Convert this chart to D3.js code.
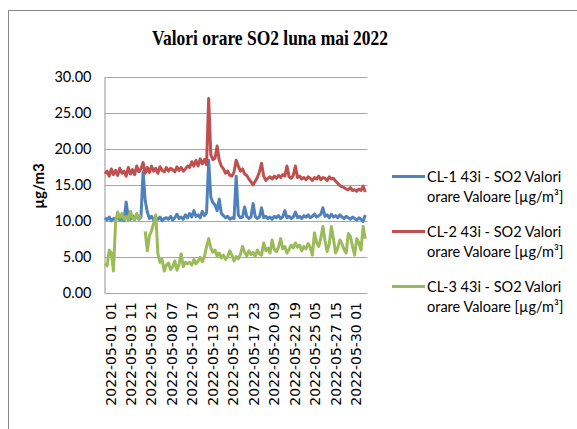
<!DOCTYPE html>
<html>
<head>
<meta charset="utf-8">
<script src="https://cdn.jsdelivr.net/npm/d3@7"></script>
<style>
  body { margin: 0; background: #fff; }
  svg { display: block; }
</style>
</head>
<body>
<svg id="chart" width="577" height="429"></svg>
<script>
// hourly values, one sample every 6 hours (index * 6 = hour of month)
const stepHours = 6
const cl1 = [
  10.4,10.1,10.5,10.0,10.3,10.2,10.6,10.1,10.3,10.0,
  12.6,10.4,10.2,10.7,10.3,10.6,10.2,10.5,16.8,12.8,
  11.2,10.3,10.6,10.1,10.4,10.2,10.5,10.0,10.3,10.4,
  10.2,10.6,10.1,10.4,10.9,10.3,10.5,10.2,10.8,10.4,
  11.0,10.5,11.4,10.6,10.8,10.4,11.3,10.7,11.1,18.4,
  13.3,12.5,12.2,11.4,13.0,11.0,10.7,10.4,10.6,10.2,
  10.4,10.3,16.2,10.8,10.4,10.5,11.9,10.6,10.3,10.5,
  12.4,10.6,10.3,10.5,11.8,10.4,10.6,10.3,10.5,10.2,
  10.6,10.4,10.7,10.3,10.5,11.4,10.4,10.6,10.3,10.5,
  11.2,10.4,10.6,10.3,10.7,10.5,10.8,10.4,10.6,10.9,
  10.5,10.7,10.9,11.8,10.6,10.8,10.4,10.9,10.5,10.7,
  10.4,10.8,10.5,10.3,10.6,10.4,10.2,10.5,10.3,10.1,
  10.4,10.2,9.9,10.8
]
const cl2 = [
  16.5,16.9,16.2,17.2,16.4,17.0,16.3,17.3,16.6,16.9,
  16.2,17.4,16.5,17.1,16.4,17.6,16.8,17.2,18.1,16.6,
  17.4,16.7,17.6,16.9,17.3,16.6,17.5,17.0,16.8,17.4,
  16.9,17.3,17.1,16.8,17.5,17.0,17.4,16.9,17.2,17.6,
  17.4,18.2,17.6,18.4,17.6,18.6,17.9,18.5,17.8,27.0,
  19.2,18.5,18.7,20.4,18.4,17.6,17.2,16.6,16.9,16.3,
  16.2,16.8,18.4,17.6,16.9,17.2,16.5,16.3,15.8,15.4,
  15.0,15.5,16.0,16.8,18.0,16.2,15.6,15.9,16.1,15.8,
  16.2,15.9,16.3,16.0,16.4,16.2,17.6,16.1,15.9,16.3,
  17.6,16.0,16.2,15.8,16.0,15.7,16.1,15.9,15.6,16.0,
  15.8,16.2,15.7,16.0,15.9,15.6,16.1,15.8,15.9,15.5,
  15.2,14.9,14.7,14.6,14.4,14.3,14.6,14.2,14.3,14.1,
  14.4,14.2,14.8,14.0
]
const cl3 = [
  4.0,3.7,5.9,5.5,3.0,9.8,11.2,10.4,11.0,10.2,
  10.6,10.0,11.3,10.4,10.1,11.0,10.3,10.8,null,8.5,
  5.8,7.9,8.6,9.6,10.8,5.4,4.2,4.6,3.0,3.8,
  4.1,3.2,3.6,4.4,3.1,3.9,5.4,3.6,4.2,4.0,
  4.2,3.8,4.6,4.0,4.4,4.9,4.3,5.0,6.4,7.5,
  6.2,5.6,5.9,5.1,5.5,4.8,5.2,4.6,5.0,5.8,
  5.2,4.4,5.0,4.7,5.3,6.4,5.6,5.1,5.8,5.3,
  5.6,5.0,5.9,5.4,5.2,6.9,5.8,6.2,5.5,7.3,
  6.0,5.7,6.3,7.5,6.1,6.4,5.5,6.0,6.6,6.2,
  6.9,6.3,6.6,5.8,6.4,6.1,6.8,6.3,5.2,8.3,
  7.0,6.4,7.6,9.2,7.2,5.7,6.8,9.2,7.4,5.5,
  6.2,7.3,6.8,6.0,5.5,8.2,7.8,6.4,5.2,7.5,
  6.9,5.9,9.2,7.5
]
const seriesNames = [
  'CL-1 43i - SO2 Valori orare Valoare [µg/m³]',
  'CL-2 43i - SO2 Valori orare Valoare [µg/m³]',
  'CL-3 43i - SO2 Valori orare Valoare [µg/m³]'
]
const seriesColors = ['#4F81BD', '#C0504D', '#9BBB59']
const xTickLabels = [
  '2022-05-01 01','2022-05-03 11','2022-05-05 21','2022-05-08 07','2022-05-10 17',
  '2022-05-13 03','2022-05-15 13','2022-05-17 23','2022-05-20 09','2022-05-22 19',
  '2022-05-25 05','2022-05-27 15','2022-05-30 01'
]
const labelEvery = 58 // hours between labels
const hoursInMonth = 744
const yTicks = [0, 5, 10, 15, 20, 25, 30]

const svg = d3.select('#chart')

// outer chart border
svg.append('rect')
  .attr('x', 8.5).attr('y', 10.5)
  .attr('width', 700).attr('height', 600)
  .attr('fill', 'none').attr('stroke', '#868686')

// title
svg.append('text')
  .attr('x', 152).attr('y', 44.5)
  .attr('textLength', 236).attr('lengthAdjust', 'spacingAndGlyphs')
  .style('font-family', '"Liberation Serif", serif')
  .style('font-weight', 'bold').style('font-size', '21px')
  .text('Valori orare SO2 luna mai 2022')

// scales
const x = d3.scaleLinear().domain([0, hoursInMonth - 1]).range([105, 367])
const y = d3.scaleLinear().domain([0, 30]).range([292.5, 77])

// gridlines
svg.append('g').selectAll('line')
  .data(yTicks)
  .join('line')
  .attr('x1', 104.5).attr('x2', 367.5)
  .attr('y1', d => Math.round(y(d)) + 0.5).attr('y2', d => Math.round(y(d)) + 0.5)
  .attr('stroke', '#a6a6a6').attr('stroke-width', 1.2)

// y axis
const yAxis = svg.append('g')
  .attr('transform', 'translate(104.5,0)')
  .call(d3.axisLeft(y).tickValues(yTicks).tickSize(0).tickPadding(13).tickFormat(d3.format('.2f')))
yAxis.select('.domain').attr('stroke', '#a6a6a6').attr('stroke-width', 1.2)
yAxis.selectAll('text')
  .style('font-family', 'Lato, sans-serif').style('font-size', '14.5px').attr('fill', '#000')

svg.append('text')
  .attr('transform', 'translate(39,186) rotate(-90)')
  .attr('text-anchor', 'middle').attr('dy', '0.35em')
  .style('font-family', 'Lato, sans-serif').style('font-weight', 'bold').style('font-size', '15px')
  .text('µg/m3')

// x tick labels
svg.append('g').selectAll('text')
  .data(xTickLabels)
  .join('text')
  .attr('transform', (d, i) => 'translate(' + (x(i * labelEvery) + 5.5) + ',302) rotate(-90)')
  .attr('text-anchor', 'end').attr('dy', '0.36em')
  .style('font-family', '"DejaVu Sans", sans-serif').style('font-size', '14px')
  .text(d => d)

// lines
const line = d3.line()
  .defined(d => d != null)
  .x((d, i) => x(i * stepHours))
  .y(d => y(d))

const allSeries = [cl1, cl2, cl3]
allSeries.forEach((s, k) => {
  svg.append('path')
    .datum(s)
    .attr('fill', 'none')
    .attr('stroke', seriesColors[k])
    .attr('stroke-width', 3)
    .attr('stroke-linejoin', 'round')
    .attr('d', line)
})

// legend
const legend = svg.append('g')
seriesNames.forEach((name, k) => {
  const cy = 176.5 + k * 55
  legend.append('line')
    .attr('x1', 392).attr('x2', 425).attr('y1', cy).attr('y2', cy)
    .attr('stroke', seriesColors[k]).attr('stroke-width', 3)
  const t = legend.append('text')
    .attr('x', 427).attr('y', cy + 5)
    .style('font-family', 'Lato, sans-serif').style('font-size', '14.5px')
  t.append('tspan').attr('x', 427).text(name.slice(0, 21))
  t.append('tspan').attr('x', 427).attr('dy', 20).text(name.slice(22))
})
</script>
</body>
</html>
